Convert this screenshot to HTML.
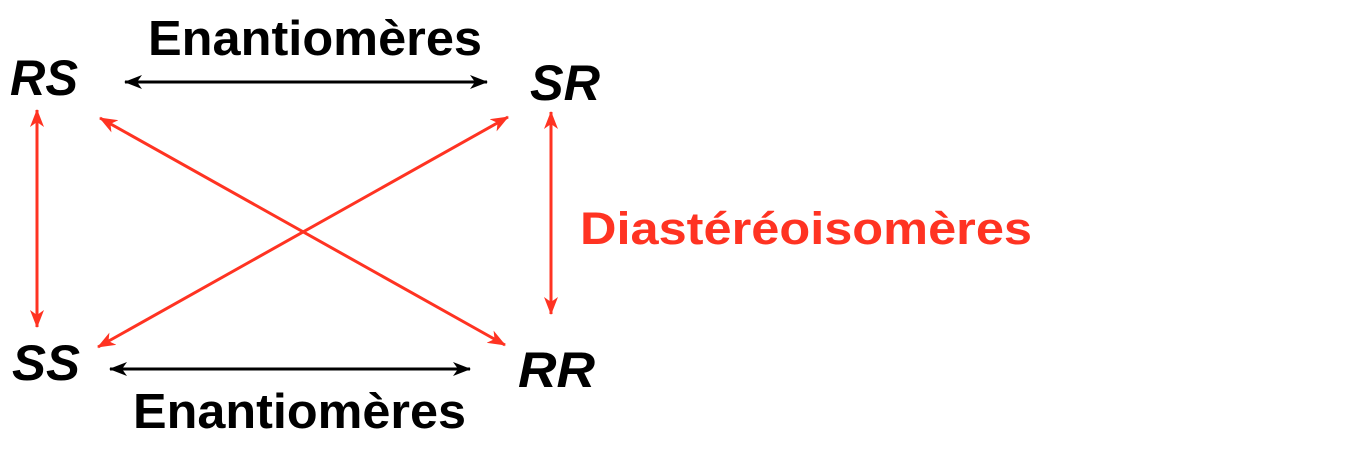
<!DOCTYPE html>
<html><head><meta charset="utf-8"><style>body{margin:0;background:#fff}svg{display:block}</style></head><body>
<svg width="1368" height="458" viewBox="0 0 1368 458" xmlns="http://www.w3.org/2000/svg" font-family="Liberation Sans, Arial, sans-serif" font-weight="bold">
<defs>
<marker id="b" viewBox="0 0 18 14" refX="17" refY="7" markerWidth="18" markerHeight="14" orient="auto-start-reverse" markerUnits="userSpaceOnUse"><path d="M0,0 L18,7 L0,14 L5,7 z" fill="#000"/></marker>
<marker id="r" viewBox="0 0 18 14" refX="17" refY="7" markerWidth="18" markerHeight="14" orient="auto-start-reverse" markerUnits="userSpaceOnUse"><path d="M0,0 L18,7 L0,14 L5,7 z" fill="#ff3322"/></marker>
</defs>
<text x="148" y="55" font-size="49" textLength="334" lengthAdjust="spacingAndGlyphs">Enantiomères</text>
<text x="133" y="428" font-size="49" textLength="333" lengthAdjust="spacingAndGlyphs">Enantiomères</text>
<text x="580" y="244" font-size="45" fill="#ff3322" textLength="452" lengthAdjust="spacingAndGlyphs">Diastéréoisomères</text>
<g font-style="italic" font-size="50">
<text x="10" y="95" textLength="68" lengthAdjust="spacingAndGlyphs">RS</text>
<text x="530" y="100" textLength="70" lengthAdjust="spacingAndGlyphs">SR</text>
<text x="12" y="380" textLength="68" lengthAdjust="spacingAndGlyphs">SS</text>
<text x="518" y="387" textLength="77" lengthAdjust="spacingAndGlyphs">RR</text>
</g>
<g stroke-width="3" fill="none">
<line x1="125" y1="82" x2="487" y2="82" stroke="#000" marker-start="url(#b)" marker-end="url(#b)"/>
<line x1="110" y1="369" x2="470" y2="369" stroke="#000" marker-start="url(#b)" marker-end="url(#b)"/>
<line x1="37" y1="110" x2="37" y2="327" stroke="#ff3322" marker-start="url(#r)" marker-end="url(#r)"/>
<line x1="551" y1="112" x2="551" y2="314" stroke="#ff3322" marker-start="url(#r)" marker-end="url(#r)"/>
<line x1="100" y1="118" x2="505" y2="345" stroke="#ff3322" marker-start="url(#r)" marker-end="url(#r)"/>
<line x1="508" y1="117" x2="98" y2="347" stroke="#ff3322" marker-start="url(#r)" marker-end="url(#r)"/>
</g>
</svg>
</body></html>
